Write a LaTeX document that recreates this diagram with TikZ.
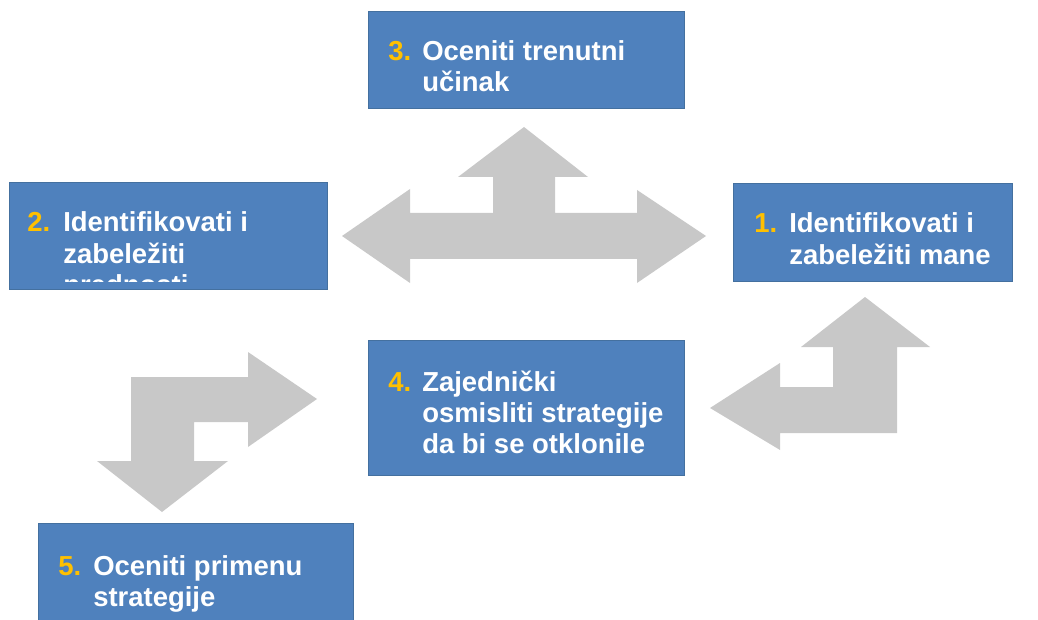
\documentclass[tikz,border=0pt]{standalone}
\usepackage{fontspec}
\setmainfont{Liberation Sans}
\definecolor{boxblue}{HTML}{4F81BD}
\definecolor{boxedge}{HTML}{44709F}
\definecolor{numgold}{HTML}{FFC000}
\definecolor{arrowgray}{HTML}{C8C8C8}
\begin{document}
\begin{tikzpicture}[x=0.75pt,y=-0.75pt,
  box/.style={fill=boxblue, draw=boxedge, line width=0.6pt, anchor=north west, inner sep=0pt},
  num/.style={anchor=base west, inner sep=0pt, text=numgold, font=\fontsize{20.6}{24}\selectfont\bfseries},
  txt/.style={anchor=base west, inner sep=0pt, text=white, font=\fontsize{20.6}{24}\selectfont\bfseries},
  bigarrow/.style={fill=arrowgray, draw=none}]
\useasboundingbox (0,0) rectangle (1038,620);

% arrows
\fill[bigarrow] (342,236) -- (410,189) -- (410,213) -- (493,213) -- (493,177) -- (458,177) -- (524,127)
  -- (588,177) -- (555,177) -- (555,213) -- (637,213) -- (637,190) -- (706,236) -- (637,283)
  -- (637,259) -- (410,259) -- (410,283) -- cycle;
\fill[bigarrow] (317,399) -- (248,352) -- (248,377) -- (131,377) -- (131,461) -- (97,461) -- (162,512)
  -- (228,461) -- (194,461) -- (194,422) -- (248,422) -- (248,447) -- cycle;
\fill[bigarrow] (710,408) -- (780,363) -- (780,387) -- (833,387) -- (833,347) -- (801,347) -- (865,297)
  -- (930,347) -- (897,347) -- (897,433) -- (780,433) -- (780,450) -- cycle;

% boxes
\node[box, minimum width=316*0.75pt, minimum height=97*0.75pt] (b3) at (368,11) {};
\node[box, minimum width=318*0.75pt, minimum height=107*0.75pt] (b2) at (9,182) {};
\node[box, minimum width=279*0.75pt, minimum height=98*0.75pt] (b1) at (733,183) {};
\node[box, minimum width=316*0.75pt, minimum height=135*0.75pt] (b4) at (368,340) {};
\node[box, minimum width=315*0.75pt, minimum height=100*0.75pt] (b5) at (38,523) {};

% box 3
\node[num] (n3) at (388,61) {3.};
\node[txt] (t3a) at (422,61) {Oceniti trenutni};
\node[txt] (t3b) at (422,92) {učinak};

% box 2
\node[num] (n2) at (27,232) {2.};
\node[txt] (t2a) at (63,232) {Identifikovati i};
\node[txt] (t2b) at (63,263) {zabeležiti};
\begin{scope}
  \clip (9,182) rectangle (327,281);
  \node[txt] (t2c) at (63,294) {prednosti};
\end{scope}

% box 1
\node[num] (n1) at (754,233) {1.};
\node[txt] (t1a) at (789,233) {Identifikovati i};
\node[txt] (t1b) at (789,264) {zabeležiti mane};

% box 4
\node[num] (n4) at (388,391) {4.};
\node[txt] (t4a) at (422,391) {Zajednički};
\node[txt] (t4b) at (422,422) {osmisliti strategije};
\node[txt] (t4c) at (422,453) {da bi se otklonile};

% box 5
\node[num] (n5) at (58,575) {5.};
\node[txt] (t5a) at (93,575) {Oceniti primenu};
\node[txt] (t5b) at (93,606) {strategije};
\end{tikzpicture}
\end{document}
